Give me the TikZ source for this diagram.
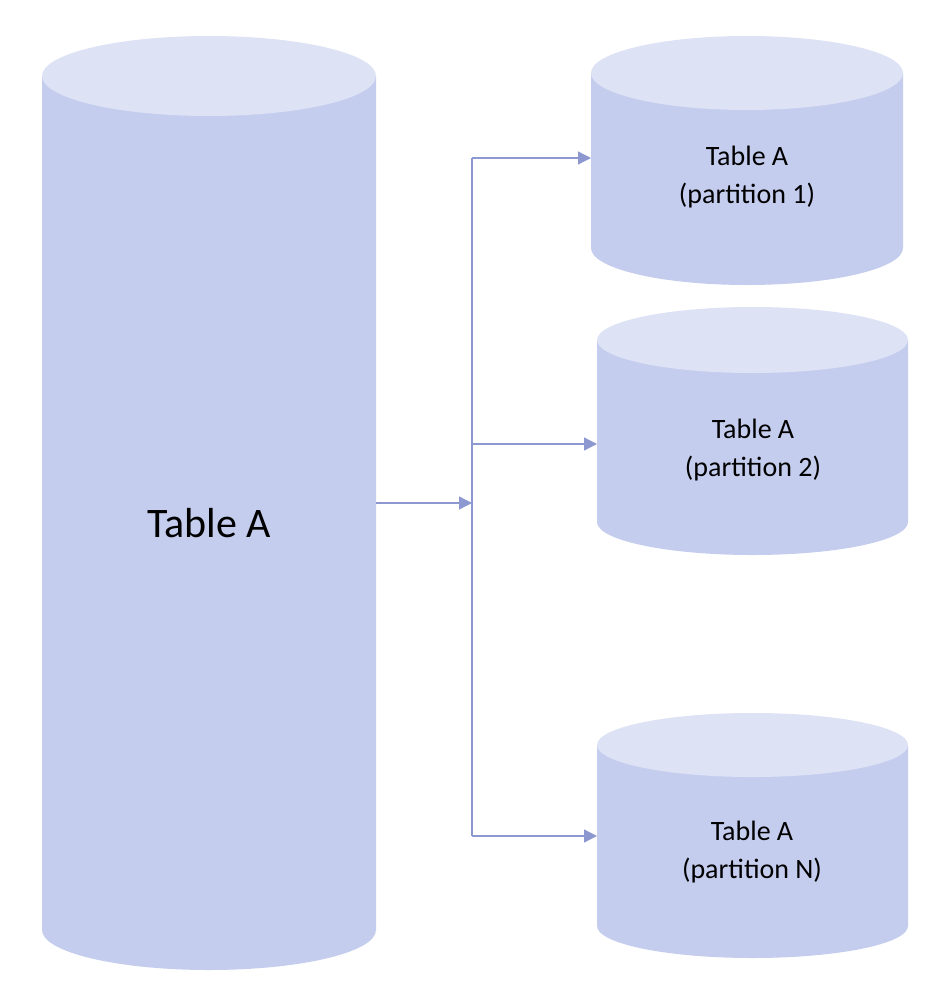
\documentclass[tikz,border=0pt]{standalone}
\usepackage{fontspec}
\setmainfont{Carlito}
\usetikzlibrary{arrows.meta}
\definecolor{body}{HTML}{C5CDEF}
\definecolor{topc}{HTML}{DDE2F5}
\definecolor{line}{HTML}{8E98D0}
\tikzset{conn/.style={draw=line,line width=1.3pt},
arr/.style={conn,-{Triangle[length=13pt,width=13pt]}}}
\newcommand{\cyl}[6]{% x1 x2 ytop ybot ry name
\fill[body] (#1,#3) -- (#1,#4) arc[start angle=180,end angle=0,x radius={(#2-#1)/2},y radius=#5] -- (#2,#3) -- cycle;
\fill[topc] ({(#1+#2)/2},#3) ellipse[x radius={(#2-#1)/2},y radius=#5];
\coordinate (#6) at ({(#1+#2)/2},{(#3+#4)/2});}
\begin{document}
\begin{tikzpicture}[x=1pt,y=-1pt]
\useasboundingbox (0,0) rectangle (936,990);
\cyl{42}{376}{76}{930}{40}{big}
\cyl{591}{903}{73}{248}{37}{p1}
\cyl{597}{908}{340}{522}{33}{p2}
\cyl{597}{908}{745}{926}{32}{pn}
\node[font=\fontsize{42}{50}\selectfont] at (209,523) {Table A};
\node[font=\fontsize{28}{38}\selectfont,align=center] at (747,177) {Table A\\(partition 1)};
\node[font=\fontsize{28}{38}\selectfont,align=center] at (753,450) {Table A\\(partition 2)};
\node[font=\fontsize{28}{38}\selectfont,align=center] at (752,852) {Table A\\(partition N)};
\coordinate (bo) at (376,503);
\coordinate (j) at (472,503);
\coordinate (jt) at (472,158);
\coordinate (jb) at (472,836);
\coordinate (j2) at (472,444);
\draw[arr] (bo) -- (j);
\draw[conn] (jt) -- (jb);
\draw[arr] (jt) -- (jt -| 591,0);
\draw[arr] (j2) -- (j2 -| 597,0);
\draw[arr] (jb) -- (jb -| 597,0);
\end{tikzpicture}
\end{document}
